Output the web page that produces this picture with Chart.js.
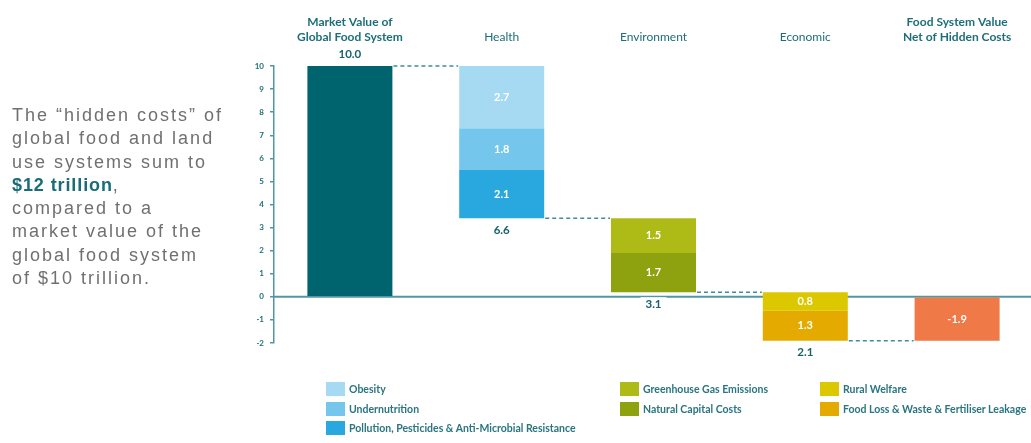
<!DOCTYPE html>
<html>
<head>
<meta charset="utf-8">
<script src="https://cdn.jsdelivr.net/npm/chart.js@4"></script>
<style>
  html, body { margin: 0; padding: 0; background: #fff; }
  #wrap { position: relative; width: 1031px; height: 443px; overflow: hidden; }
  #chartBox { position: absolute; left: 0; top: 0; width: 1033px; height: 443px; }
  #intro {
    position: absolute; left: 12px; top: 104px;
    font-family: "Liberation Sans", Arial, sans-serif; font-size: 18px;
    line-height: 23.3px; letter-spacing: 2px; color: #707070;
  }
  #intro b { color: #1a6d77; letter-spacing: 0.9px; }
  .legend-col { position: absolute; top: 382px; }
  .legend-item {
    display: flex; align-items: center; height: 14px; margin-bottom: 5.5px;
    font-family: Lato, sans-serif; font-weight: bold; font-size: 10.5px; color: #2a7580;
    white-space: nowrap;
  }
  .legend-item span.sw { display: inline-block; width: 19px; height: 14px; margin-right: 4px; }
</style>
</head>
<body>
<div id="wrap">
  <div id="chartBox"><canvas id="wf"></canvas></div>
  <div id="intro">
    The “hidden costs” of<br>
    global food and land<br>
    use systems sum to<br>
    <b>$12 trillion</b>,<br>
    compared to a<br>
    market value of the<br>
    global food system<br>
    of $10 trillion.
  </div>
  <div id="legend"></div>
</div>
<script>
// kategori (label atas, bisa 2 baris)
const categories = [
  ['Market Value of', 'Global Food System'],
  'Health',
  'Environment',
  'Economic',
  ['Food System Value', 'Net of Hidden Costs']
];

// tiap seri: nama, kategori, nilai (triliun USD), warna
const seriesNames = [
  'Market Value of Global Food System',
  'Obesity',
  'Undernutrition',
  'Pollution, Pesticides & Anti-Microbial Resistance',
  'Greenhouse Gas Emissions',
  'Natural Capital Costs',
  'Rural Welfare',
  'Food Loss & Waste & Fertiliser Leakage',
  'Food System Value Net of Hidden Costs'
];
const seriesCategory = [0, 1, 1, 1, 2, 2, 3, 3, 4];
const seriesValues   = [10.0, -2.7, -1.8, -2.1, -1.5, -1.7, -0.8, -1.3, -1.9];
const seriesIsTotal  = [true, false, false, false, false, false, false, false, true];
const seriesColors   = ['#00646f', '#a6daf3', '#75c6ec', '#29a8e0', '#aebb17', '#8da20e', '#dcc800', '#e5aa00', '#ef7947'];

// total per kategori (ditulis di atas/bawah batang)
const categoryTotals = [10.0, 6.6, 3.1, 2.1, null];

// susunan legenda (indeks seri per kolom)
const legendColumns = [[1, 2, 3], [4, 5], [6, 7]];
const legendLeft = [326, 620, 820];

const teal = '#1d6e78';
const axisColor = '#4f98a3';

// hitung batang mengambang (waterfall)
let running = 0;
const ranges = seriesValues.map((v, i) => {
  let r;
  if (seriesIsTotal[i]) {
    r = [Math.min(0, v), Math.max(0, v)];
    running = v;
  } else {
    r = [Math.min(running, running + v), Math.max(running, running + v)];
    running += v;
  }
  return r;
});

const datasets = seriesNames.map((name, i) => ({
  label: name,
  data: categories.map((c, ci) => ci === seriesCategory[i] ? ranges[i] : null),
  backgroundColor: seriesColors[i],
  borderWidth: 0,
  barPercentage: 0.56,
  categoryPercentage: 1
}));

// garis nol
const zeroLine = {
  id: 'zeroLine',
  beforeDatasetsDraw(chart) {
    const { ctx, chartArea, scales } = chart;
    const y = scales.y.getPixelForValue(0);
    ctx.save();
    ctx.strokeStyle = axisColor;
    ctx.lineWidth = 2;
    ctx.beginPath();
    ctx.moveTo(chartArea.left, y);
    ctx.lineTo(chartArea.right, y);
    ctx.stroke();
    ctx.restore();
  }
};

// garis putus-putus penghubung + label nilai
const wfLabels = {
  id: 'wfLabels',
  afterDatasetsDraw(chart) {
    const { ctx, scales } = chart;
    const bars = categories.map(() => []);
    seriesNames.forEach((n, i) => {
      const el = chart.getDatasetMeta(i).data[seriesCategory[i]];
      bars[seriesCategory[i]].push({ el, i });
    });

    // level akhir tiap kategori
    const levels = bars.map((list, ci) => {
      const lows = list.map(b => ranges[b.i][0]);
      const highs = list.map(b => ranges[b.i][1]);
      return ci === 0 ? Math.max(...highs) : Math.min(...lows);
    });

    ctx.save();
    ctx.strokeStyle = '#3d8e99';
    ctx.lineWidth = 1.5;
    ctx.setLineDash([4, 3]);
    for (let ci = 0; ci < categories.length - 1; ci++) {
      const a = bars[ci][0].el, b = bars[ci + 1][0].el;
      const y = scales.y.getPixelForValue(levels[ci]);
      ctx.beginPath();
      ctx.moveTo(a.x + a.width / 2 + 1, y);
      ctx.lineTo(b.x - b.width / 2 - 1, y);
      ctx.stroke();
    }
    ctx.setLineDash([]);

    // label di dalam segmen
    ctx.textAlign = 'center';
    ctx.textBaseline = 'middle';
    ctx.font = 'bold 11px Lato';
    ctx.fillStyle = '#ffffff';
    seriesNames.forEach((n, i) => {
      if (i === 0) return;
      const el = chart.getDatasetMeta(i).data[seriesCategory[i]];
      const txt = seriesIsTotal[i] ? seriesValues[i].toFixed(1) : Math.abs(seriesValues[i]).toFixed(1);
      ctx.fillText(txt, el.x, (el.y + el.base) / 2);
    });

    // total kategori
    ctx.font = 'bold 11.5px Lato';
    categoryTotals.forEach((t, ci) => {
      if (t === null) return;
      const x = bars[ci][0].el.x;
      const y = ci === 0
        ? scales.y.getPixelForValue(levels[ci]) - 12
        : scales.y.getPixelForValue(levels[ci]) + 12;
      const txt = t.toFixed(1);
      const w = ctx.measureText(txt).width;
      ctx.fillStyle = '#ffffff';
      ctx.fillRect(x - w / 2 - 5, y - 7, w + 10, 13);
      ctx.fillStyle = '#17626c';
      ctx.fillText(txt, x, y);
    });
    ctx.restore();
  }
};

new Chart(document.getElementById('wf'), {
  type: 'bar',
  data: { labels: categories, datasets },
  options: {
    responsive: true,
    maintainAspectRatio: false,
    animation: false,
    layout: { padding: { left: 240, right: 0, top: 0, bottom: 100 } },
    plugins: { legend: { display: false }, tooltip: { enabled: false } },
    scales: {
      x: {
        position: 'top',
        stacked: true,
        offset: true,
        grid: { display: false },
        border: { display: false },
        ticks: {
          padding: 14,
          color: teal,
          maxRotation: 0,
          font: ctx => ({
            family: 'Lato',
            size: 12,
            weight: (ctx.index === 0 || ctx.index === 4) ? 'bold' : 'normal'
          })
        },
        afterFit: s => { s.height = 66; }
      },
      y: {
        stacked: false,
        min: -2,
        max: 10,
        ticks: {
          stepSize: 1,
          padding: 6,
          color: teal,
          font: { family: 'Lato', size: 8, weight: 'bold' }
        },
        grid: { drawOnChartArea: false, tickLength: 4, color: axisColor, lineWidth: 1.5 },
        border: { display: true, color: axisColor, width: 1.5 },
        afterFit: s => { s.width = 34; }
      }
    }
  },
  plugins: [zeroLine, wfLabels]
});

// legenda HTML
const legendEl = document.getElementById('legend');
legendColumns.forEach((col, k) => {
  const div = document.createElement('div');
  div.className = 'legend-col';
  div.style.left = legendLeft[k] + 'px';
  col.forEach(i => {
    const item = document.createElement('div');
    item.className = 'legend-item';
    item.innerHTML = '<span class="sw" style="background:' + seriesColors[i] + '"></span>' + seriesNames[i];
    div.appendChild(item);
  });
  legendEl.appendChild(div);
});
</script>
</body>
</html>
